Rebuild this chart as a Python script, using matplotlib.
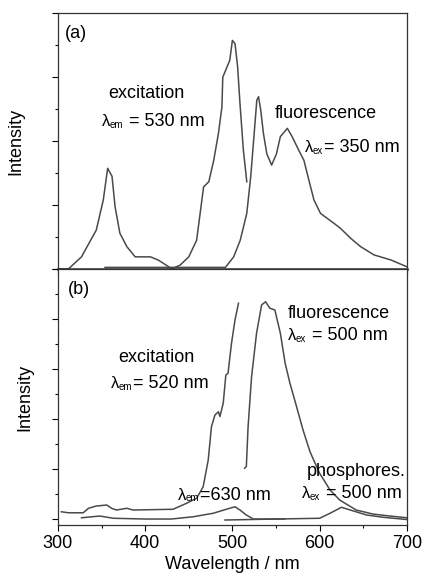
import matplotlib
matplotlib.use("Agg")
import matplotlib.pyplot as plt
from matplotlib.ticker import MultipleLocator, NullFormatter

plt.rcParams['font.family'] = ['Liberation Sans', 'DejaVu Sans']

# ---- panel (a) data ----
a_exc_x = [300, 312, 327, 344, 352, 357, 362, 365.5, 371, 379, 388.5, 406, 415, 427, 430,
           440, 450, 459, 467, 473, 478.6, 484, 488, 489, 494, 497, 500, 503, 506, 508.7,
           512.6, 516.5]
a_exc_y = [0.0, 0.0, 0.38, 1.22, 2.16, 3.15, 2.9, 1.95, 1.12, 0.7, 0.38, 0.38, 0.28, 0.07, 0.0,
           0.12, 0.38, 0.9, 2.57, 2.73, 3.4, 4.24, 5.07, 6.0, 6.33, 6.53, 7.15, 7.05, 6.33, 5.18,
           3.72, 2.73]
a_flu_x = [354, 420, 492, 501.5, 509, 516.5, 521, 525, 528, 530, 532.5, 535.6, 539.5, 545,
           550.5, 555, 563, 568.5, 576, 582, 587.7, 593.5, 601, 616.4, 624, 635.6, 647,
           662.4, 682, 700]
a_flu_y = [0.05, 0.05, 0.05, 0.38, 0.9, 1.74, 2.88, 4.24, 5.28, 5.39, 4.97, 4.24, 3.6, 3.25,
           3.6, 4.14, 4.4, 4.14, 3.72, 3.4, 2.78, 2.16, 1.74, 1.43, 1.27, 0.96, 0.7,
           0.44, 0.28, 0.07]

# ---- panel (b) data ----
b_exc_x = [304, 312, 329, 335, 344, 356, 361.5, 367, 379, 386, 432, 447.5, 459, 466.5,
           472.3, 476, 480, 484, 485.7, 489.5, 492.5, 495, 499, 503, 507]
b_exc_y = [0.29, 0.25, 0.25, 0.43, 0.52, 0.56, 0.43, 0.36, 0.43, 0.36, 0.39, 0.63, 0.83, 1.29,
           2.36, 3.69, 4.16, 4.29, 4.1, 4.63, 5.76, 5.83, 7.03, 7.96, 8.63]
b_flu_x = [514, 516, 518, 522, 527.7, 533.5, 538, 543, 548.7, 555, 560.5, 566, 573.6, 581,
           589, 600, 612, 623, 642, 661, 680.5, 700]
b_flu_y = [2.03, 2.1, 3.69, 5.69, 7.43, 8.56, 8.69, 8.43, 8.36, 7.43, 6.23, 5.43, 4.49, 3.56,
           2.69, 1.83, 1.16, 0.76, 0.36, 0.2, 0.12, 0.05]
b_exc630_x = [327, 348, 363.5, 400, 430, 455, 478, 493, 503, 508.7, 516, 524, 560]
b_exc630_y = [0.05, 0.12, 0.03, 0.0, 0.0, 0.09, 0.23, 0.39, 0.49, 0.36, 0.16, 0.0, 0.0]
b_pho_x = [491.5, 550, 600, 612, 625, 638, 654, 673, 700]
b_pho_y = [-0.04, 0.0, 0.03, 0.23, 0.47, 0.33, 0.16, 0.07, -0.02]

xticks = [300, 400, 500, 600, 700]

lc = '#4a4a4a'
lw = 1.1

fig = plt.figure(figsize=(4.26, 5.76), dpi=100)
axa = fig.add_axes([0.136, 0.533, 0.819, 0.444])
axb = fig.add_axes([0.136, 0.0885, 0.819, 0.4445])

axa.plot(a_exc_x, a_exc_y, color=lc, lw=lw)
axa.plot(a_flu_x, a_flu_y, color=lc, lw=lw)
axb.plot(b_exc_x, b_exc_y, color=lc, lw=lw)
axb.plot(b_flu_x, b_flu_y, color=lc, lw=lw)
axb.plot(b_exc630_x, b_exc630_y, color=lc, lw=lw)
axb.plot(b_pho_x, b_pho_y, color=lc, lw=lw)

for ax in (axa, axb):
    ax.set_xlim(300, 700)
    ax.xaxis.set_major_locator(MultipleLocator(100))
    ax.xaxis.set_minor_locator(MultipleLocator(50))
    ax.yaxis.set_major_locator(MultipleLocator(2))
    ax.yaxis.set_minor_locator(MultipleLocator(1))
    ax.yaxis.set_major_formatter(NullFormatter())
    ax.tick_params(axis='both', which='major', direction='out', length=4, width=0.8,
                   labelsize=13, top=False, right=False)
    ax.tick_params(axis='both', which='minor', direction='out', length=2.5, width=0.8,
                   top=False, right=False)
    for s in ax.spines.values():
        s.set_linewidth(0.9)
        s.set_color('#333333')
    ax.set_ylabel('Intensity', fontsize=13)

axa.set_ylim(0, 8)
axb.set_ylim(-0.24, 10)
axa.xaxis.set_major_formatter(NullFormatter())
axa.spines['bottom'].set_linewidth(1.8)
axb.set_xticks(xticks)
axb.set_xticklabels([str(v) for v in xticks])
axb.tick_params(axis='x', which='major', pad=3)
axb.set_xlabel('Wavelength / nm', fontsize=13, labelpad=3)
axa.yaxis.set_label_coords(-0.095, 0.5)
axb.yaxis.set_label_coords(-0.07, 0.5)

fs = 13
renderer = fig.canvas.get_renderer()

def px(x, y, s, size=fs):
    fig.text(x / 426, 1 - y / 576, s, fontsize=size, ha='left', va='center')

def lam(x, y, sub, rest):
    # λ, small lowered subscript, then the rest of the label
    t1 = fig.text(x / 426, 1 - y / 576, 'λ', fontsize=fs - 1, ha='left', va='center')
    bb = t1.get_window_extent(renderer)
    t2 = fig.text((bb.x1 - 0.5) / 426, 1 - (y + 3) / 576, sub, fontsize=7,
                  ha='left', va='center')
    bb2 = t2.get_window_extent(renderer)
    fig.text((bb2.x1 + 0.5) / 426, 1 - y / 576, rest, fontsize=fs, ha='left', va='center')

px(65, 33, '(a)')
px(108, 93, 'excitation')
lam(102, 122, 'em', ' = 530 nm')
px(275, 113, 'fluorescence')
lam(305, 148, 'ex', '= 350 nm')

px(68, 290, '(b)')
px(288, 313, 'fluorescence')
lam(288, 336, 'ex', ' = 500 nm')
px(118, 357, 'excitation')
lam(111, 384, 'em', '= 520 nm')
px(307, 472, 'phosphores.')
lam(302, 494, 'ex', ' = 500 nm')
lam(178, 495, 'em', '=630 nm')

fig.savefig('out.png', dpi=100)
